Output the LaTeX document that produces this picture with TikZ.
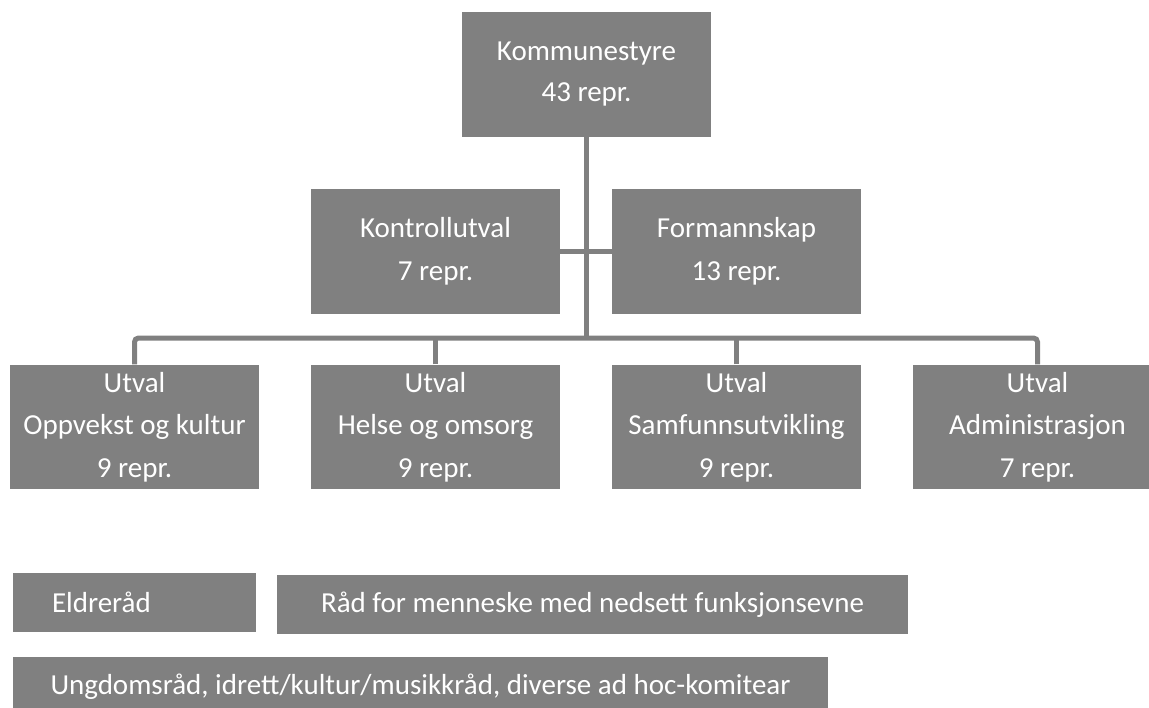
\documentclass[tikz,border=0pt]{standalone}
\usepackage{fontspec}
\setmainfont{Carlito}
\usepackage{tikz}

\begin{document}
\begin{tikzpicture}
		[x=0.75pt,y=-0.75pt,line cap=rect,
		%Styles
		orgbox/.style={rectangle,fill=boxgray,text=white,inner sep=0pt,align=center,
			minimum width=186.75pt,minimum height=93.5pt,
			font=\fontsize{21.75}{32}\selectfont},
		topbox/.style={orgbox,font=\fontsize{21.75}{30.75}\selectfont},
		councilbox/.style={rectangle,fill=boxgray,text=white,inner sep=0pt,
			minimum height=44.25pt,font=\fontsize{21.75}{26}\selectfont},
		link/.style={draw=boxgray,line width=3.75pt}
		]
		
		%Colors
		\colorlet{boxgray}{black!50}	%boxes and lines
		
		\clip (0,0) rectangle (1149,707);
		
		%The graphic
		\node[topbox] (kommunestyre) at (586.5,74.5) {Kommunestyre\\43 repr.};
		
		\node[orgbox] (kontroll) at (435.5,251.5) {Kontrollutval\\7 repr.};
		\node[orgbox] (formannskap) at (736.5,251.5) {Formannskap\\13 repr.};
		
		\node[orgbox] (oppvekst) at (134.5,427) {Utval\\Oppvekst og kultur\\9 repr.};
		\node[orgbox] (helse) at (435.5,427) {Utval\\Helse og omsorg\\9 repr.};
		\node[orgbox] (samfunn) at (736.5,427) {Utval\\Samfunnsutvikling\\9 repr.};
		\node[orgbox] (admin) at (1037.5,427) {Utval\\Administrasjon\\7 repr.};
		
		\node[councilbox,inner xsep=29.25pt,text width=123.75pt,align=left] (eldre) at (134.5,602.5) {Eldreråd};
		\node[councilbox,minimum width=473.25pt] (raad) at (592.5,604.5) {Råd for menneske med nedsett funksjonsevne};
		\node[councilbox,minimum width=611.25pt] (ungdom) at (420.5,686.5) {Ungdomsråd, idrett/kultur/musikkråd, diverse ad hoc-komitear};
		
		\coordinate (bus) at (586,338);
		
		\draw[link,line cap=butt] (kommunestyre.south) -- (kommunestyre.south |- bus);
		\draw[link,line cap=butt] (kontroll.east) -- (formannskap.west);
		\draw[link,line cap=butt,rounded corners=3pt] (oppvekst.north) -- (oppvekst.north |- bus) -- (admin.north |- bus) -- (admin.north);
		\draw[link,line cap=butt] (helse.north) -- (helse.north |- bus);
		\draw[link,line cap=butt] (samfunn.north) -- (samfunn.north |- bus);
	\end{tikzpicture}
\end{document}
